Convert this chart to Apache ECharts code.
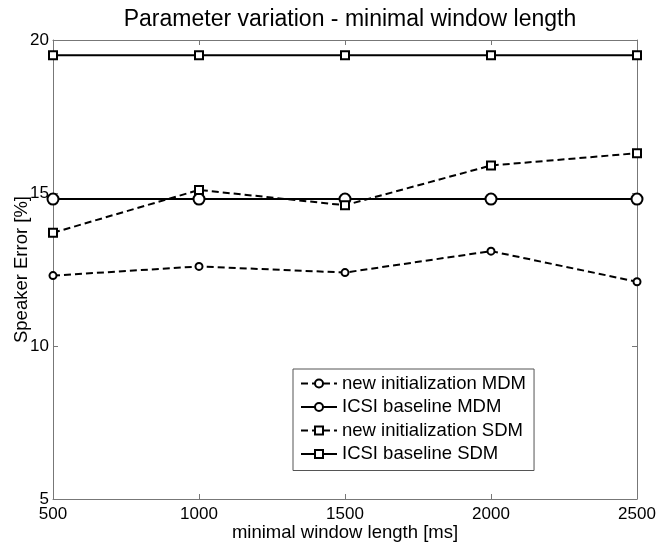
<!DOCTYPE html>
<html>
<head>
<meta charset="utf-8">
<script src="https://cdn.jsdelivr.net/npm/echarts@6/dist/echarts.min.js"></script>
<style>
  html, body { margin: 0; padding: 0; background: #fff; }
  #chart { width: 658px; height: 544px; }
</style>
</head>
<body>
<div id="chart"></div>
<script>
// window lengths [ms]
const windowLengths = [500, 1000, 1500, 2000, 2500]
// speaker error [%]
const newInitMDM = [12.3, 12.6, 12.4, 13.1, 12.1]
const icsiBaseMDM = [14.8, 14.8, 14.8, 14.8, 14.8]
const newInitSDM = [13.7, 15.1, 14.6, 15.9, 16.3]
const icsiBaseSDM = [19.5, 19.5, 19.5, 19.5, 19.5]
const seriesNames = ['new initialization MDM', 'ICSI baseline MDM', 'new initialization SDM', 'ICSI baseline SDM']

const FONT = 'Liberation Sans, Arial, sans-serif'
const AXIS_COLOR = '#777'

const pairs = ys => windowLengths.map((x, i) => [x, ys[i]])

function makeSeries (name, ys, symbol, size, dashed) {
  return {
    name,
    type: 'line',
    data: pairs(ys),
    symbol,
    symbolSize: size,
    showAllSymbol: true,
    lineStyle: { color: '#000', width: 2, type: dashed ? [7, 4] : 'solid' },
    itemStyle: { color: '#000', borderColor: '#000', borderWidth: 2 },
    emphasis: { disabled: true },
    animation: false
  }
}

const chart = echarts.init(document.getElementById('chart'))
const axisCommon = {
  axisLine: { show: true, lineStyle: { color: AXIS_COLOR, width: 1 } },
  axisTick: { show: true, inside: true, length: 5, lineStyle: { color: AXIS_COLOR } },
  splitLine: { show: false }
}

chart.setOption({
  backgroundColor: '#fff',
  textStyle: { fontFamily: FONT },
  title: {
    text: 'Parameter variation - minimal window length',
    left: 345,
    textAlign: 'center',
    top: 3,
    textStyle: { fontFamily: FONT, fontSize: 23, fontWeight: 'normal', color: '#000' }
  },
  grid: { left: 53, right: 21, top: 40, bottom: 45, containLabel: false, outerBoundsMode: 'none' },
  legend: {
    orient: 'vertical',
    left: 293,
    top: 369,
    padding: [5, 8, 7, 7],
    itemGap: 4.5,
    itemWidth: 36,
    itemHeight: 10,
    backgroundColor: '#fff',
    borderColor: '#555',
    borderWidth: 1,
    borderRadius: 0,
    textStyle: { fontFamily: FONT, fontSize: 18.5, color: '#000' },
    data: seriesNames
  },
  xAxis: [
    {
      type: 'value',
      min: 500,
      max: 2500,
      interval: 500,
      name: 'minimal window length [ms]',
      nameLocation: 'middle',
      nameGap: 24,
      nameMoveOverlap: false,
      nameTextStyle: { fontFamily: FONT, fontSize: 18.5, color: '#000' },
      axisLabel: { fontFamily: FONT, fontSize: 17, color: '#000', margin: 7, formatter: v => String(v) },
      ...axisCommon
    },
    {
      type: 'value',
      position: 'top',
      min: 500,
      max: 2500,
      interval: 500,
      axisLabel: { show: false },
      ...axisCommon
    }
  ],
  yAxis: [
    {
      type: 'value',
      min: 5,
      max: 20,
      interval: 5,
      name: 'Speaker Error [%]',
      nameLocation: 'middle',
      nameGap: 22,
      nameMoveOverlap: false,
      nameTextStyle: { fontFamily: FONT, fontSize: 18.5, color: '#000' },
      axisLabel: { fontFamily: FONT, fontSize: 17, color: '#000', margin: 4 },
      ...axisCommon
    },
    {
      type: 'value',
      position: 'right',
      min: 5,
      max: 20,
      interval: 5,
      axisLabel: { show: false },
      ...axisCommon
    }
  ],
  series: [
    makeSeries(seriesNames[0], newInitMDM, 'emptyCircle', 7, true),
    makeSeries(seriesNames[1], icsiBaseMDM, 'emptyCircle', 11, false),
    makeSeries(seriesNames[2], newInitSDM, 'emptyRect', 8, true),
    makeSeries(seriesNames[3], icsiBaseSDM, 'emptyRect', 8, false)
  ]
})
</script>
</body>
</html>
